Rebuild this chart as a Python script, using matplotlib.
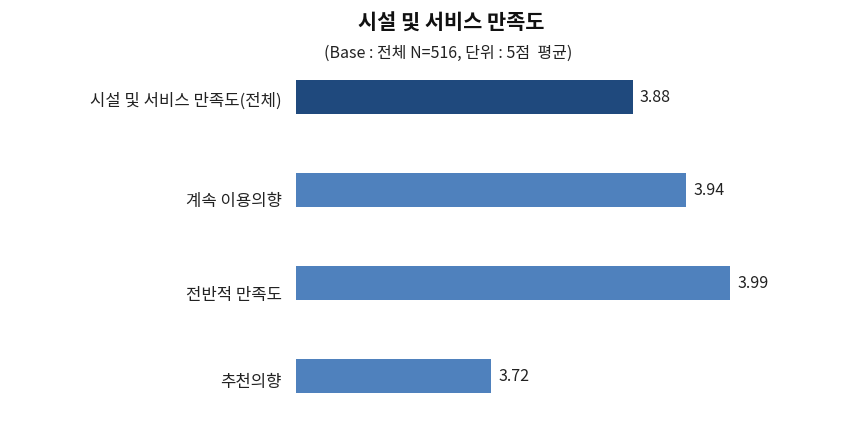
import matplotlib.pyplot as plt
import matplotlib.transforms as mtransforms

plt.rcParams['font.family'] = ['Noto Sans CJK KR', 'DejaVu Sans']

categories = ['시설 및 서비스 만족도(전체)', '계속 이용의향', '전반적 만족도', '추천의향']
values = [3.88, 3.94, 3.99, 3.72]
colors = ['#1F497D', '#4F81BD', '#4F81BD', '#4F81BD']
label_shift = [-2, -9, -10, -4]  # px, excel drops labels a bit

fig = plt.figure(figsize=(8.58, 4.46), dpi=100)
W, H = 858, 446
ax = fig.add_axes([296 / W, 1 - 422.5 / H, (828 - 296) / W, (422.5 - 51) / H])

ypos = list(range(len(categories)))
ax.barh(ypos, [v - 3.5 for v in values], left=3.5, height=0.366, color=colors)
ax.set_xlim(3.5, 4.1)
ax.set_ylim(3.5, -0.5)

for y, v in zip(ypos, values):
    ax.annotate(f'{v:.2f}', (v, y), xytext=(5, 0), textcoords='offset points',
                va='center', ha='left', fontsize=11.5, color='#222222')

ax.set_yticks(ypos)
ax.set_yticklabels(categories, fontsize=12, color='#222222')
ax.tick_params(axis='y', length=0, pad=10)
for lab, dy in zip(ax.get_yticklabels(), label_shift):
    lab.set_transform(lab.get_transform() + mtransforms.ScaledTranslation(0, dy / 100, fig.dpi_scale_trans))
ax.set_xticks([])
for s in ax.spines.values():
    s.set_visible(False)

fig.text(451 / W, 1 - 22 / H, '시설 및 서비스 만족도', ha='center', va='center',
         fontsize=15, fontweight='bold', color='#111111')
fig.text(448 / W, 1 - 53 / H, '(Base : 전체 N=516, 단위 : 5점  평균)', ha='center', va='center',
         fontsize=11.5, color='#222222')

fig.savefig('out.png', dpi=100, facecolor='white')
